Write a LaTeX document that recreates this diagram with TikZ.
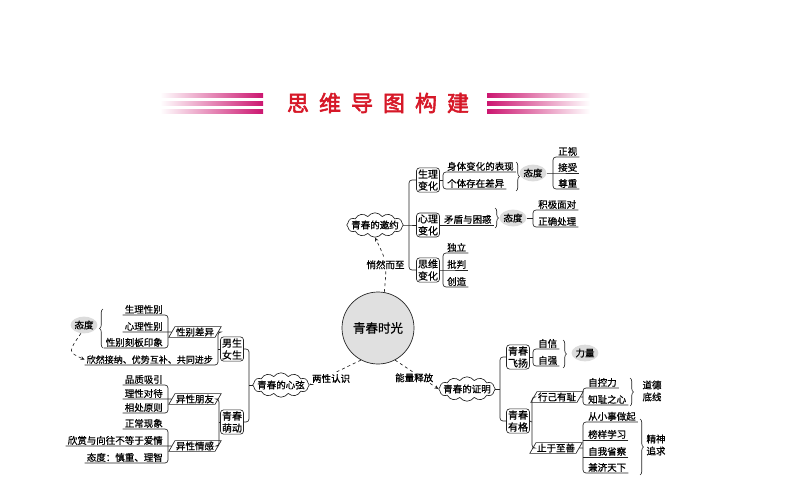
\documentclass[tikz,border=0pt]{standalone}
\usepackage{fontspec}
\usepackage{xcolor}
\usepackage{tikz}
\usetikzlibrary{arrows.meta,shapes.geometric,shapes.symbols,decorations.pathreplacing}
\newfontfamily\cjk{Noto Sans CJK SC}[FakeBold=0.6]
\newfontfamily\cjkttl{Noto Sans CJK SC}[FakeBold=2.5]
\definecolor{figline}{RGB}{35,35,35}
\definecolor{hubfill}{RGB}{224,224,224}
\definecolor{tagfill}{RGB}{220,220,220}
\definecolor{ttlred}{RGB}{214,24,40}
\definecolor{stripe}{RGB}{204,22,112}
\newcommand\itemfont{\cjk\fontsize{9.5}{11}\selectfont}
\newcommand\boxfont{\cjk\fontsize{10}{12}\selectfont}
\tikzset{
  conn/.style ={draw=figline, line width=0.65pt},
  bus/.style  ={conn, rounded corners=3pt},
  lnk/.style  ={conn, dashed, -{Stealth[length=4pt,width=3.5pt]}},
  brc/.style  ={conn, decorate, decoration={brace, amplitude=3.5pt}},
  hub/.style  ={circle, draw=figline, line width=0.7pt, fill=hubfill, minimum size=72pt, font=\cjk\fontsize{12.5}{13}\selectfont},
  topic/.style={cloud, cloud puffs=12, cloud puff arc=110, aspect=3.2, draw=figline, line width=0.65pt, inner xsep=-4pt, inner ysep=-0.5pt, font=\itemfont},
  tbox/.style ={draw=figline, line width=0.65pt, rounded corners=3pt, align=center, inner sep=1.5pt, font=\boxfont},
  slant/.style={trapezium, trapezium left angle=60, trapezium right angle=120, draw=figline, line width=0.65pt, inner xsep=1pt, inner ysep=1pt, font=\itemfont},
  itm/.style  ={inner xsep=2pt, inner ysep=1pt, font=\itemfont},
  tag/.style  ={ellipse, fill=tagfill, inner xsep=0pt, inner ysep=1.5pt, font=\itemfont},
  note/.style ={align=center, inner sep=1pt, font=\cjk\fontsize{9.5}{12}\selectfont},
  lbl/.style  ={fill=white, inner sep=1pt, font=\itemfont},
}
\begin{document}
\begin{tikzpicture}[x=1pt,y=1pt]
  \useasboundingbox (0,0) rectangle (794,-495);
  % title
  \shade[left color=white,right color=stripe] (160,-93.5) rectangle (263,-97);
  \shade[left color=white,right color=stripe] (160,-101.5) rectangle (263,-105);
  \shade[left color=white,right color=stripe] (160,-109.5) rectangle (263,-113);
  \shade[left color=stripe,right color=white] (487,-93.5) rectangle (590,-97);
  \shade[left color=stripe,right color=white] (487,-101.5) rectangle (590,-105);
  \shade[left color=stripe,right color=white] (487,-109.5) rectangle (590,-113);
  \node[text=ttlred, font=\cjkttl\fontsize{22}{22}\selectfont] (title) at (378,-103)
    {思\kern10pt 维\kern10pt 导\kern10pt 图\kern10pt 构\kern10pt 建};

  % centre and the three clouds
  \node[hub] (hub) at (378,-328) {青春时光};
  \node[topic] (yao) at (375,-225) {青春的邀约};
  \node[topic] (xian) at (281,-385) {青春的心弦};
  \node[topic] (zheng) at (467,-389) {青春的证明};
  \draw[lnk] (hub.80) .. controls (387,-262) .. (yao.south) node[lbl,pos=0.45] {悄然而至};
  \draw[lnk] (hub.242) -- (xian.east) node[lbl,pos=0.58,yshift=-4pt] {两性认识};
  \draw[lnk] (hub.298) -- (zheng.west) node[lbl,pos=0.44,yshift=-5pt] {能量释放};

  % 青春的邀约
  \node[tbox] (shengli) at (428,-180) {生理\\变化};
  \node[tbox] (xinli) at (428,-225) {心理\\变化};
  \node[tbox] (siwei) at (428,-270) {思维\\变化};
  \coordinate (yaoBus) at (409,-225);
  \draw[bus] (shengli.west) -| (yaoBus) |- (siwei.west);
  \draw[conn] (yao.east) -- (yaoBus) -- (xinli.west);

  \node[itm,anchor=south west] (biaoxian) at (445,-172) {身体变化的表现};
  \node[itm,anchor=south west] (chayi) at (445,-189) {个体存在差异};
  \coordinate (slBus) at (443,-180);
  \draw[bus] (biaoxian.south east) -| (slBus) |- (chayi.south east);
  \draw[conn] (shengli.east) -- (slBus);
  \draw[brc] (516,-162) -- (516,-191);
  \node[tag] (taidu1) at (533,-173) {态度};
  \node[itm,anchor=south west] (zhengshi) at (556,-157) {正视};
  \node[itm,anchor=south west] (jieshou) at (556,-173) {接受};
  \node[itm,anchor=south west] (zunzhong) at (556,-189) {尊重};
  \coordinate (tdBus1) at (553,-173);
  \draw[bus] (zhengshi.south east) -| (tdBus1) |- (zunzhong.south east);
  \draw[conn] (taidu1.east) -- (tdBus1) -- (jieshou.south east);

  \node[itm,anchor=south west] (maodun) at ([xshift=2pt]xinli.east) {矛盾与困惑};
  \draw[conn] (xinli.east) -- (maodun.south east);
  \draw[brc] (495,-208) -- (495,-228);
  \node[tag] (taidu2) at (513,-218) {态度};
  \node[itm,anchor=south west] (jiji) at (536,-210) {积极面对};
  \node[itm,anchor=south west] (zhengque) at (536,-227) {正确处理};
  \coordinate (tdBus2) at (533,-218);
  \draw[bus] (jiji.south east) -| (tdBus2) |- (zhengque.south east);
  \draw[conn] (taidu2.east) -- (tdBus2);

  \node[itm,anchor=south west] (duli) at (445,-253) {独立};
  \node[itm,anchor=south west] (pipan) at (445,-270) {批判};
  \node[itm,anchor=south west] (chuangzao) at (445,-287) {创造};
  \coordinate (swBus) at (443,-270);
  \draw[bus] (duli.south east) -| (swBus) |- (chuangzao.south east);
  \draw[conn] (siwei.east) -- (swBus) -- (pipan.south east);

  % 青春的证明
  \node[tbox] (feiyang) at (518,-357) {青春\\飞扬};
  \node[tbox] (youge) at (518,-421) {青春\\有格};
  \coordinate (zmBus) at (500,-389);
  \draw[bus] (feiyang.west) -| (zmBus) |- (youge.west);
  \draw[conn] (zheng.east) -- (zmBus);

  \node[itm,anchor=south west] (zixin) at (536,-349) {自信};
  \node[itm,anchor=south west] (ziqiang) at (536,-366) {自强};
  \coordinate (fyBus) at (533,-357);
  \draw[bus] (zixin.south east) -| (fyBus) |- (ziqiang.south east);
  \draw[conn] (feiyang.east) -- (fyBus);
  \draw[brc] (563,-340) -- (563,-368);
  \node[tag] (liliang) at (585,-353) {力量};

  \node[slant] (xingji) at (557,-397) {行己有耻};
  \node[slant] (zhiyu) at (556,-448) {止于至善};
  \coordinate (ygBus) at (532,-422);
  \draw[bus] (xingji.west) -| (ygBus) |- (zhiyu.west);
  \draw[conn] (youge.east) -- (ygBus);

  \node[itm,anchor=south west] (zikong) at (586,-388) {自控力};
  \node[itm,anchor=south west] (zhichi) at (586,-405) {知耻之心};
  \coordinate (xjBus) at (583,-397);
  \draw[bus] (zikong.south east) -| (xjBus) |- (zhichi.south east);
  \draw[conn] (xingji.east) -- (xjBus);
  \draw[brc] (630,-378) -- (630,-406);
  \node[note] (daode) at (652,-391) {道德\\底线};

  \node[itm,anchor=south west] (congxiao) at (586,-422) {从小事做起};
  \node[itm,anchor=south west] (bangyang) at (586,-440) {榜样学习};
  \node[itm,anchor=south west] (shengcha) at (586,-457) {自我省察};
  \node[itm,anchor=south west] (jianji) at (586,-473) {兼济天下};
  \coordinate (zyBus) at (583,-448);
  \draw[bus] (congxiao.south east) -| (zyBus) |- (jianji.south east);
  \draw[conn] (bangyang.south east) -- (bangyang.south -| zyBus);
  \draw[conn] (shengcha.south east) -- (shengcha.south -| zyBus);
  \draw[conn] (zhiyu.east) -- (zyBus);
  \draw[brc] (640,-419) -- (640,-475);
  \node[note] (jingshen) at (656,-445) {精神\\追求};

  % 青春的心弦
  \node[tbox] (nannv) at (232,-349) {男生\\女生};
  \node[tbox] (mengdong) at (232,-422) {青春\\萌动};
  \coordinate (xxBus) at (249,-385);
  \draw[bus] (nannv.east) -| (xxBus) |- (mengdong.east);
  \draw[conn] (xian.west) -- (xxBus);

  \node[slant] (xbcy) at (195,-332) {性别差异};
  \node[itm,anchor=south east,font=\cjk\fontsize{9}{11}\selectfont] (xinran) at (215,-365) {欣然接纳、优势互补、共同进步};
  \coordinate (nnBus) at (218,-349);
  \draw[bus] (xbcy.east) -| (nnBus) |- (xinran.south west);
  \draw[conn] (nannv.west) -- (nnBus);

  \node[itm,anchor=south east] (shenglixb) at (165,-315) {生理性别};
  \node[itm,anchor=south east] (xinlixb) at (165,-332) {心理性别};
  \node[itm,anchor=south east] (keban) at (165,-348) {性别刻板印象};
  \coordinate (xbBus) at (168,-332);
  \draw[bus] (shenglixb.south west) -| (xbBus) |- (keban.south west);
  \draw[conn] (xinlixb.south west) -- (xbBus) -- (xbcy.west);
  \draw[brc] (103,-348) -- (103,-309);
  \node[tag] (taidu3) at (84,-325) {态度};
  \draw[lnk] (taidu3.250) .. controls (68,-352) .. (xinran.west);

  \node[slant] (yxpy) at (195,-399) {异性朋友};
  \node[slant] (yxqg) at (195,-446) {异性情感};
  \coordinate (mdBus) at (219,-422);
  \draw[bus] (yxpy.east) -| (mdBus) |- (yxqg.east);
  \draw[conn] (mengdong.west) -- (mdBus);

  \node[itm,anchor=south east] (pinzhi) at (165,-385) {品质吸引};
  \node[itm,anchor=south east] (lixing) at (165,-399) {理性对待};
  \node[itm,anchor=south east] (xiangchu) at (165,-413) {相处原则};
  \coordinate (ypBus) at (168,-399);
  \draw[bus] (pinzhi.south west) -| (ypBus) |- (xiangchu.south west);
  \draw[conn] (lixing.south west) -- (ypBus) -- (yxpy.west);

  \node[itm,anchor=south east] (zhengchang) at (165,-429) {正常现象};
  \node[itm,anchor=south east] (xinshang) at (165,-446) {欣赏与向往不等于爱情};
  \node[itm,anchor=south east] (shenzhong) at (165,-463) {态度：慎重、理智};
  \coordinate (yqBus) at (168,-446);
  \draw[bus] (zhengchang.south west) -| (yqBus) |- (shenzhong.south west);
  \draw[conn] (xinshang.south west) -- (yqBus) -- (yxqg.west);
\end{tikzpicture}
\end{document}
